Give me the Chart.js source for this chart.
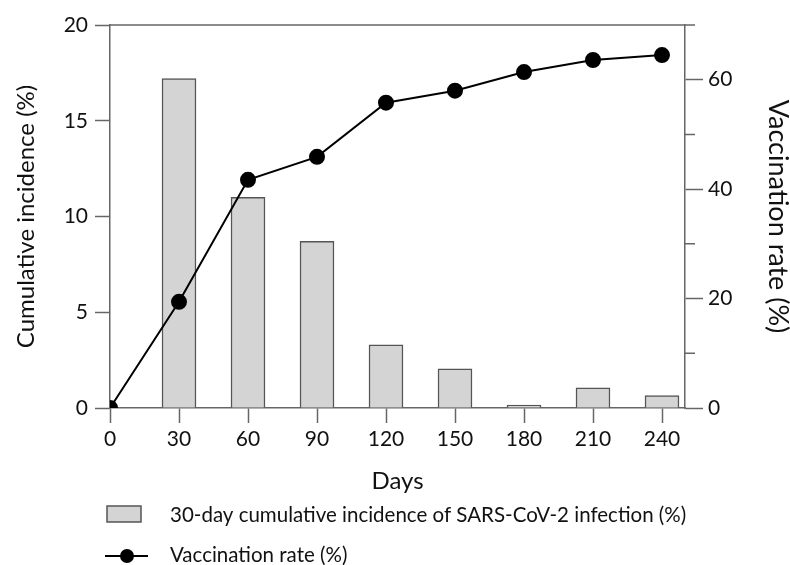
<!DOCTYPE html>
<html>
<head>
<meta charset="utf-8">
<script src="https://cdn.jsdelivr.net/npm/chart.js@4/dist/chart.umd.min.js"></script>
<style>
  html, body { margin: 0; padding: 0; background: #fff; }
</style>
</head>
<body>
<canvas id="chart" width="790" height="565"></canvas>
<script>
const days = [0, 30, 60, 90, 120, 150, 180, 210, 240];
const incidenceDays = [30, 60, 90, 120, 150, 180, 210, 240];
const incidence = [17.2, 11.0, 8.7, 3.3, 2.05, 0.15, 1.05, 0.65];
const vaccination = [0, 19.4, 41.7, 45.9, 55.8, 58.0, 61.4, 63.6, 64.5];
const incidenceLabel = "30-day cumulative incidence of SARS-CoV-2 infection (%)";
const vaccinationLabel = "Vaccination rate (%)";

const axisColor = "#666";
const barFill = "#d4d4d4";
const barEdge = "#555";

Chart.defaults.font.family = "Lato, 'Open Sans', sans-serif";
Chart.defaults.color = "#111";

// top border of the plot box + short minor ticks on the right axis
const framePlugin = {
  id: "frame",
  afterDraw(chart) {
    const { ctx, chartArea } = chart;
    const y2 = chart.scales.y2;
    ctx.save();
    ctx.strokeStyle = axisColor;
    ctx.lineWidth = 1.5;
    ctx.beginPath();
    ctx.moveTo(chartArea.left, chartArea.top);
    ctx.lineTo(chartArea.right, chartArea.top);
    y2.ticks.forEach((t) => {
      if (t.value % 20 === 0) return;
      const py = y2.getPixelForValue(t.value);
      ctx.moveTo(chartArea.right, py);
      ctx.lineTo(chartArea.right + 10, py);
    });
    ctx.stroke();
    ctx.restore();
  },
};

// legend stacked under the x axis title
const legendPlugin = {
  id: "stackLegend",
  afterDraw(chart) {
    const { ctx } = chart;
    const bars = chart.data.datasets[0];
    const line = chart.data.datasets[1];
    ctx.save();
    ctx.font = "20.5px Lato, 'Open Sans', sans-serif";
    ctx.textBaseline = "middle";

    ctx.fillStyle = bars.backgroundColor;
    ctx.fillRect(107, 506, 34, 16);
    ctx.strokeStyle = bars.borderColor;
    ctx.lineWidth = 1.5;
    ctx.strokeRect(107, 506, 34, 16);
    ctx.fillStyle = "#111";
    ctx.fillText(bars.label, 170, 515);

    ctx.strokeStyle = line.borderColor;
    ctx.lineWidth = 2;
    ctx.beginPath();
    ctx.moveTo(105, 556);
    ctx.lineTo(148, 556);
    ctx.stroke();
    ctx.fillStyle = line.pointBackgroundColor;
    ctx.beginPath();
    ctx.arc(127, 556, 7, 0, Math.PI * 2);
    ctx.fill();
    ctx.fillStyle = "#111";
    ctx.fillText(line.label, 170, 555);
    ctx.restore();
  },
};

new Chart(document.getElementById("chart"), {
  type: "bar",
  data: {
    datasets: [
      {
        type: "bar",
        label: incidenceLabel,
        data: incidenceDays.map((d, i) => ({ x: d, y: incidence[i] })),
        xAxisID: "x",
        yAxisID: "y",
        barThickness: 34,
        backgroundColor: barFill,
        borderColor: barEdge,
        borderWidth: 1.5,
        order: 2,
      },
      {
        type: "line",
        label: vaccinationLabel,
        data: days.map((d, i) => ({ x: d, y: vaccination[i] })),
        xAxisID: "x",
        yAxisID: "y2",
        borderColor: "#000",
        borderWidth: 2,
        pointRadius: 7,
        pointBackgroundColor: "#000",
        pointBorderColor: "#000",
        tension: 0,
        order: 1,
      },
    ],
  },
  options: {
    responsive: false,
    animation: false,
    layout: { padding: { top: 25, bottom: 72, left: 0, right: 0 } },
    plugins: { legend: { display: false }, tooltip: { enabled: false } },
    scales: {
      x: {
        type: "linear",
        min: 0,
        max: 250,
        offset: false,
        afterBuildTicks: (s) => { s.ticks = days.map((v) => ({ value: v })); },
        afterFit: (s) => { s.height = 85; },
        ticks: { font: { size: 21 }, color: "#111", padding: 4, maxRotation: 0, autoSkip: false },
        grid: { offset: false, drawOnChartArea: false, tickLength: 15, tickColor: axisColor, tickWidth: 1.5 },
        border: { color: axisColor, width: 1.5 },
        title: { display: true, text: "Days", font: { size: 24, lineHeight: 1 }, color: "#111", padding: 0 },
      },
      y: {
        position: "left",
        min: 0,
        max: 20,
        afterFit: (s) => { s.width = 110; },
        ticks: { stepSize: 5, font: { size: 21 }, color: "#111", padding: 7 },
        grid: { drawOnChartArea: false, tickLength: 15, tickColor: axisColor, tickWidth: 1.5 },
        border: { color: axisColor, width: 1.5 },
        title: { display: true, text: "Cumulative incidence (%)", font: { size: 24, lineHeight: 1 }, color: "#111", padding: { top: 14, bottom: 0 } },
      },
      y2: {
        position: "right",
        min: 0,
        max: 70,
        afterFit: (s) => { s.width = 105; },
        ticks: {
          stepSize: 10,
          font: { size: 21 },
          color: "#111",
          padding: 5,
          callback: (v) => (v % 20 === 0 ? v : ""),
        },
        grid: {
          drawOnChartArea: false,
          tickLength: 18,
          tickWidth: 1.5,
          tickColor: (c) => (c.tick && c.tick.value % 20 === 0 ? axisColor : "rgba(0,0,0,0)"),
        },
        border: { color: axisColor, width: 1.5 },
        title: { display: true, text: "Vaccination rate (%)", font: { size: 27, lineHeight: 1 }, color: "#111", padding: { top: -1, bottom: 0 } },
      },
    },
  },
  plugins: [framePlugin, legendPlugin],
});
</script>
</body>
</html>
